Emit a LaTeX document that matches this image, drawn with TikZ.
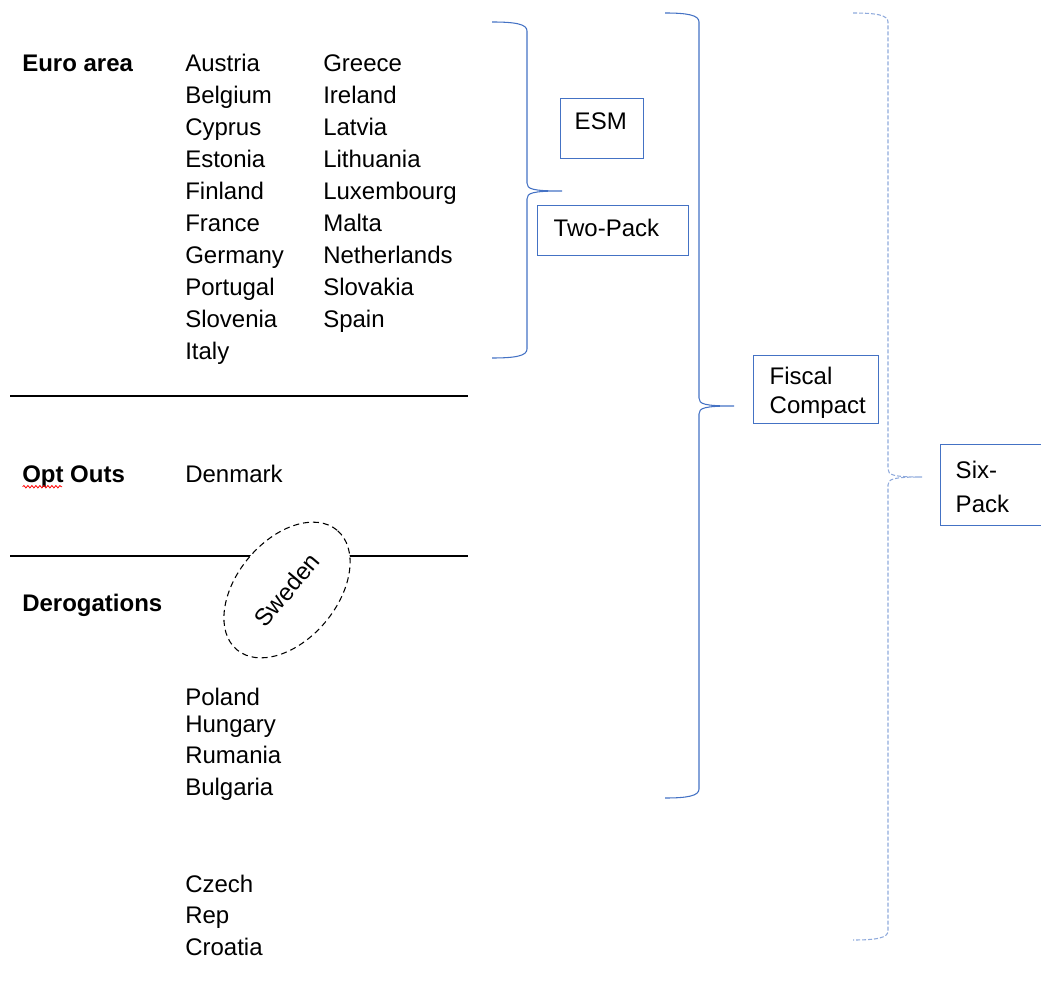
\documentclass[tikz,border=0pt]{standalone}
\usepackage{fontspec}
\setmainfont{Liberation Sans}
\usetikzlibrary{shapes.geometric,decorations.pathmorphing}
\definecolor{boxblue}{HTML}{4472C4}
\definecolor{dashblue}{HTML}{8FAADC}
\tikzset{
country/.style={anchor=base west, inner sep=0pt, font=\fontsize{18}{24}\selectfont},
grouplabel/.style={country, font=\fontsize{18}{24}\selectfont\bfseries},
pkbox/.style={draw=boxblue, line width=1.1pt, anchor=north west, inner ysep=0pt, align=left, font=\fontsize{18}{24}\selectfont},
divider/.style={line width=1pt},
bracepath/.style={draw=boxblue, line width=0.8pt},
sweden/.style={ellipse, draw, dashed, dash pattern=on 4.5pt off 3pt, line width=0.8pt, fill=white, rotate=50, minimum width=117pt, minimum height=75pt, inner sep=0pt, font=\fontsize{18}{24}\selectfont},
}
% curly brace drawn the way the word processor draws it
\newcommand{\wordbrace}[7][]{%
  \draw[bracepath,#1] (#2,#5) .. controls ({#3-12},#5) and (#3,{#5+2}) .. (#3,{#5+9}) -- (#3,{#6-8}) .. controls (#3,{#6-2}) and ({#3+5},#6) .. (#4,#6) .. controls ({#3+5},#6) and (#3,{#6+2}) .. (#3,{#6+8}) -- (#3,{#7-9}) .. controls (#3,{#7-2}) and ({#3-12},#7) .. (#2,#7);}

\begin{document}
\begin{tikzpicture}[x=0.75pt,y=0.75pt,yscale=-1,xscale=1]
\useasboundingbox (0,0) rectangle (1041,994);
%Group labels
\node[grouplabel] (eurolbl) at (22,71.5) {Euro area};
\node[grouplabel] (optlbl) at (22,482.7) {Opt Outs};
\node[grouplabel] (deroglbl) at (22,611.7) {Derogations};
\draw[red, line width=0.6pt, decorate, decoration={snake, amplitude=0.9pt, segment length=3pt}] ([xshift=0.5pt,yshift=3pt]optlbl.base west) -- ([xshift=30pt,yshift=3pt]optlbl.base west);
%Euro area members
\foreach \cname [count=\i] in {Austria,Belgium,Cyprus,Estonia,Finland,France,Germany,Portugal,Slovenia,Italy}
  \node[country] (ea\i) at (185,{71.5+32*(\i-1)}) {\cname};
\foreach \cname [count=\i] in {Greece,Ireland,Latvia,Lithuania,Luxembourg,Malta,Netherlands,Slovakia,Spain}
  \node[country] (eb\i) at (323,{71.5+32*(\i-1)}) {\cname};
%Opt outs and derogations
\node[country] (denmark) at (185,482.7) {Denmark};
\node[country] (poland) at (185,705) {Poland};
\node[country] (hungary) at (185,732) {Hungary};
\node[country] (rumania) at (185,763) {Rumania};
\node[country] (bulgaria) at (185,795) {Bulgaria};
\node[country] (czech) at (185,892) {Czech};
\node[country] (rep) at (185,923) {Rep};
\node[country] (croatia) at (185,955) {Croatia};
%Straight Lines
\draw[divider] (10,396) -- (468,396);
\draw[divider] (10,556) -- (468,556);
\node[sweden] (swe) at (287,590) {Sweden};
%Braces
\wordbrace{492}{527}{562}{22}{191}{358}
\wordbrace{665}{699}{734}{13}{406}{798}
\wordbrace[draw=dashblue, dash pattern=on 3pt off 1.5pt]{853}{888}{922}{13}{477}{940}
%Boxes
\node[pkbox, inner xsep=10.5pt, text width=41.25pt, text height=22.9pt, text depth=22.1pt] (esm) at (560,98) {ESM};
\node[pkbox, inner xsep=12pt, text width=89.25pt, text height=22.9pt, text depth=14.6pt] (twopack) at (537,205) {Two-Pack};
\node[pkbox, inner xsep=12pt, text width=69.75pt, text height=21.75pt, text depth=29.25pt, font=\fontsize{18}{21.75}\selectfont] (fiscal) at (753,355) {Fiscal\\Compact};
\node[pkbox, inner xsep=11.25pt, text width=67.5pt, text height=25.5pt, text depth=35.25pt, font=\fontsize{18}{25.5}\selectfont] (sixpack) at (940,444) {Six-\\Pack};
\end{tikzpicture}
\end{document}
